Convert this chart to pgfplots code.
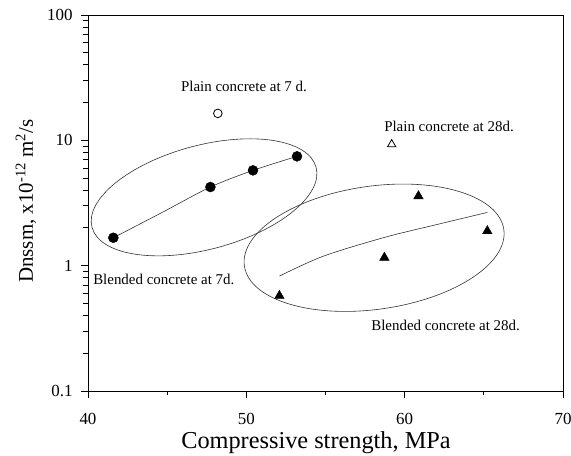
\documentclass[border=0pt]{standalone}
\usepackage{pgfplots}
\pgfplotsset{compat=1.18}
\usepackage{fontspec}
\setmainfont{Liberation Serif}
\begin{document}
\begin{tikzpicture}
\begin{axis}[
  scale only axis,
  width=475bp, height=376bp,
  xmin=40, xmax=70,
  ymode=log, ymin=0.1, ymax=100,
  xtick={40,50,60,70},
  minor xtick={45,55,65},
  ytick={0.1,1,10,100},
  yticklabels={0.1,1,10,100},
  minor ytick={0.2,0.3,0.4,0.5,0.6,0.7,0.8,0.9,2,3,4,5,6,7,8,9,20,30,40,50,60,70,80,90},
  tick align=outside,
  xtick pos=bottom,
  ytick pos=left,
  major tick length=7bp,
  minor tick length=4.5bp,
  axis line style={line width=0.8bp},
  tick style={line width=0.9bp, black},
  minor tick style={line width=0.9bp, black},
  /pgf/number format/assume math mode=true,
  ticklabel style={font=\fontsize{17}{19}\selectfont},
  xticklabel style={yshift=-12bp},
  yticklabel style={xshift=-5bp},
  xlabel={Compressive strength, MPa},
  ylabel={Dnssm, x10\textsuperscript{-12} m\textsuperscript{2}/s},
  xlabel style={font=\fontsize{24.4}{27}\selectfont, at={(axis description cs:0.48,-0.1516)}, anchor=base},
  ylabel style={font=\fontsize{21}{24}\selectfont, at={(axis description cs:-0.1158,0.505)}, anchor=base},
  clip=false,
]
% fit lines
\addplot[smooth, line width=0.6bp, black!80] coordinates {
  (41.6,1.67) (44.76,2.69) (47.73,4.24) (50.42,5.76) (53.2,7.45)};
\addplot[smooth, line width=0.6bp, black!80] coordinates {
  (52.09,0.826) (54.86,1.19) (58.72,1.68) (62.24,2.16) (65.22,2.66)};
% blended 7d
\addplot[only marks, mark=*, mark size=5bp, mark options={fill=black, draw=black}] coordinates {
  (41.6,1.67) (47.73,4.24) (50.42,5.76) (53.2,7.45)};
% plain 7d
\addplot[only marks, mark=o, mark size=4.3bp, mark options={draw=black, line width=0.8bp}] coordinates {
  (48.2,16.4)};
% blended 28d
\addplot[only marks, mark=triangle*, mark size=5.5bp, mark options={fill=black, draw=black}] coordinates {
  (60.87,3.59) (65.22,1.89) (58.72,1.16) (52.09,0.575)};
% plain 28d
\addplot[only marks, mark=triangle, mark size=4.8bp, mark options={draw=black, line width=0.8bp}] coordinates {
  (59.18,9.29)};
% ellipses
\draw[line width=0.6bp, black!80, rotate around={15:(axis cs:47.33,3.51)}] (axis cs:47.33,3.51) ellipse [x radius=116bp, y radius=52bp];
\draw[line width=0.6bp, black!80, rotate around={8:(axis cs:58.07,1.39)}] (axis cs:58.07,1.39) ellipse [x radius=131bp, y radius=61.6bp];
% annotations
\node[font=\fontsize{15}{17}\selectfont, inner sep=0pt] at (axis cs:49.85,27.1) {Plain concrete at 7 d.};
\node[font=\fontsize{15}{17}\selectfont, inner sep=0pt] at (axis cs:62.8,13.0) {Plain concrete at 28d.};
\node[font=\fontsize{15}{17}\selectfont, inner sep=0pt, anchor=west] at (axis cs:40.32,0.782) {Blended concrete at 7d.};
\node[font=\fontsize{15}{17}\selectfont, inner sep=0pt, anchor=west] at (axis cs:57.88,0.336) {Blended concrete at 28d.};
\end{axis}
\pgfresetboundingbox
\path[use as bounding box] ([xshift=-88bp,yshift=-65bp]current axis.south west) rectangle ([xshift=8bp,yshift=15bp]current axis.north east);
\end{tikzpicture}
\end{document}
